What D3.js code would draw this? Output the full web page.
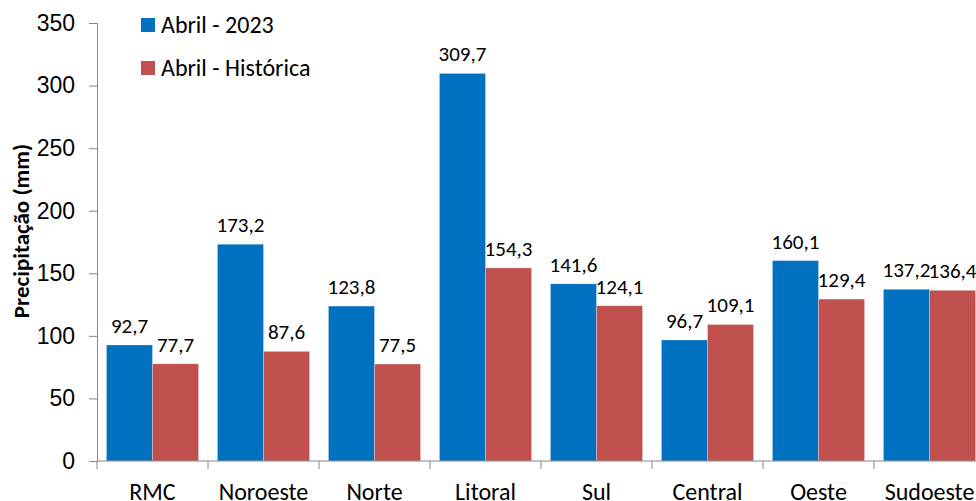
<!DOCTYPE html>
<html>
<head>
<meta charset="utf-8">
<script src="https://cdn.jsdelivr.net/npm/d3@7"></script>
<style>
  body { margin: 0; background: #fff; overflow: hidden; }
  svg { font-family: Carlito, Lato, "Open Sans", "Liberation Sans", sans-serif; }
</style>
</head>
<body>
<svg id="chart" width="976" height="501"></svg>
<script>
const regions = ['RMC', 'Noroeste', 'Norte', 'Litoral', 'Sul', 'Central', 'Oeste', 'Sudoeste'];
const abril2023 = [92.7, 173.2, 123.8, 309.7, 141.6, 96.7, 160.1, 137.2];
const abrilHistorica = [77.7, 87.6, 77.5, 154.3, 124.1, 109.1, 129.4, 136.4];
const yTicks = [0, 50, 100, 150, 200, 250, 300, 350];
const seriesNames = ['Abril - 2023', 'Abril - Histórica'];
const colors = ['#0070C0', '#C0504D'];

const svg = d3.select('#chart');
const margin = { top: 23, left: 97 };
const width = 888;   // plot runs past the right edge, like the original crop
const height = 438;

const x = d3.scaleBand().domain(regions).range([0, width]).paddingInner(0.17).paddingOuter(0.085);
const xs = d3.scaleBand().domain([0, 1]).range([0, x.bandwidth()]);
const y = d3.scaleLinear().domain([0, 350]).range([height, 0]);

const g = svg.append('g').attr('transform', `translate(${margin.left},${margin.top})`);

const fmt = v => v.toFixed(1).replace('.', ',');
const series = [abril2023, abrilHistorica];

series.forEach((vals, si) => {
  g.selectAll('.bar' + si)
    .data(vals)
    .enter()
    .append('rect')
    .attr('x', (d, i) => x(regions[i]) + xs(si))
    .attr('y', d => y(d))
    .attr('width', xs.bandwidth())
    .attr('height', d => height - y(d))
    .attr('fill', colors[si])
    .attr('stroke', '#fff')
    .attr('stroke-opacity', 0.35)
    .attr('stroke-width', 0.8);

  g.selectAll('.lbl' + si)
    .data(vals)
    .enter()
    .append('text')
    .attr('x', (d, i) => x(regions[i]) + xs(si) + xs.bandwidth() / 2)
    .attr('y', d => y(d) - 12)
    .attr('text-anchor', 'middle')
    .attr('font-size', 21)
    .attr('fill', '#000')
    .text(d => fmt(d));
});

// y axis
const yAxis = g.append('g')
  .call(d3.axisLeft(y).tickValues(yTicks).tickSize(8).tickPadding(14));
yAxis.select('.domain').attr('stroke', '#868686');
yAxis.selectAll('.tick line').attr('stroke', '#868686');
yAxis.selectAll('.tick text').attr('font-size', 23).attr('fill', '#000');

// x axis with ticks at band boundaries
const xAxis = g.append('g').attr('transform', `translate(0,${height})`);
xAxis.append('line').attr('x1', 0).attr('x2', width).attr('stroke', '#868686');
const step = x.step();
xAxis.selectAll('.xt')
  .data(d3.range(regions.length + 1))
  .enter()
  .append('line')
  .attr('x1', i => i * step).attr('x2', i => i * step)
  .attr('y1', 0).attr('y2', 8)
  .attr('stroke', '#868686');
xAxis.selectAll('.xl')
  .data(regions)
  .enter()
  .append('text')
  .attr('x', d => x(d) + x.bandwidth() / 2)
  .attr('y', 39)
  .attr('text-anchor', 'middle')
  .attr('font-size', 24)
  .attr('fill', '#000')
  .text(d => d);

// y title
svg.append('text')
  .attr('transform', 'translate(29,231) rotate(-90)')
  .attr('text-anchor', 'middle')
  .attr('font-size', 23)
  .attr('font-weight', 'bold')
  .attr('fill', '#000')
  .text('Precipitação (mm)');

// legend
const legend = svg.append('g').attr('transform', 'translate(141,18)');
seriesNames.forEach((name, i) => {
  const row = legend.append('g').attr('transform', `translate(0,${i * 43})`);
  row.append('rect').attr('width', 14).attr('height', 14).attr('fill', colors[i]);
  row.append('text').attr('x', 20).attr('y', 15).attr('font-size', 24).attr('fill', '#000').text(name);
});
</script>
</body>
</html>
